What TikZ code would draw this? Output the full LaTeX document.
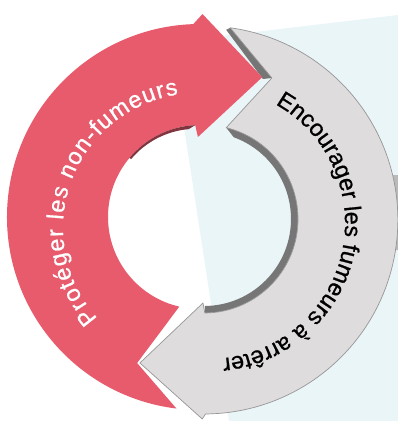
\documentclass[tikz,border=0pt]{standalone}
\usepackage{fontspec}
\setmainfont{Liberation Sans}
\newfontfamily\ringfont{Liberation Sans}[FakeBold=0.8]
\usetikzlibrary{decorations.text,calc}
\definecolor{arrowred}{RGB}{232,91,108}
\definecolor{arrowgray}{RGB}{222,220,221}
\definecolor{grayedge}{RGB}{150,150,150}
\definecolor{graywall}{RGB}{118,118,118}
\definecolor{redwall}{RGB}{128,52,62}
\definecolor{panelblue}{RGB}{234,245,248}
\definecolor{sidegray}{RGB}{185,185,185}
\begin{document}
\begin{tikzpicture}[x=1pt,y=1pt,
  redarrow/.style={fill=arrowred},
  grayarrow/.style={fill=arrowgray, draw=grayedge, line width=0.7pt, line join=round},
  wallgray/.style={fill=graywall},
  wallred/.style={fill=redwall},
  bgpanel/.style={fill=panelblue},
  redlabel/.style={decorate, decoration={text along path, text align={fit to path}, text color=white,
     text={|\ringfont\fontsize{23.5}{23.5}\selectfont|Protéger les non-fumeurs}}},
  graylabel/.style={decorate, decoration={text along path, text align={fit to path}, text color=black,
     text={|\ringfont\fontsize{23.5}{23.5}\selectfont|Encourager les fumeurs à arrêter}}}]
\useasboundingbox (0,0) rectangle (398,421);
\fill[white] (0,0) rectangle (398,421);
% light blue panel
\fill[bgpanel] (171,379) -- (398,406) -- (398,0) -- (229,0) -- cycle;
% cropped grey element at the right edge
\fill[sidegray] (393,171) rectangle (398,246);
% grey arrow (ring centre at pixel (204,219))
\begin{scope}[shift={(204,202)}]
  % inner wall seen through the hole
  \fill[wallgray] (76.3:94) arc[start angle=76.3, end angle=-89.5, radius=94]
        -- (-89.5:87) arc[start angle=-89.5, end angle=70, radius=87] -- cycle;
  % side wall along the tail notch
  \fill[wallgray] (82.2:193) -- (64.3:156.5) -- ($(64.3:156.5)+(-9,-1)$) -- ($(82.2:193)+(-4,-2)$) -- cycle;
  % grey arrow body
  \path[grayarrow] (82.2:193) arc[start angle=82.2, end angle=-89.5, radius=194]
        -- (-90.5:200) -- (-114:157.6) -- (-90.7:84) -- (-89.5:94)
        arc[start angle=-89.5, end angle=76.3, radius=94] -- (64.3:156.5) -- cycle;
\end{scope}
% red arrow (ring centre at pixel (200,217))
\begin{scope}[shift={(200,204)}]
  \fill[redarrow] (257:92) -- (246.7:159) -- (263:193)
        arc[start angle=263, end angle=92, radius=193]
        -- (89.3:203) -- (66:153) -- (91.5:80) -- (93:92)
        arc[start angle=93, end angle=257, radius=92] -- cycle;
  % red inner wall under the arrow head
  \fill[wallred] (93:92) arc[start angle=93, end angle=140, radius=92]
        -- (140:90) arc[start angle=140, end angle=95, radius=85] -- cycle;
\end{scope}
% labels along the arcs
\begin{scope}[shift={(198,193)}]
  \path[redlabel] (222:135) arc[start angle=222, end angle=98.3, radius=135];
\end{scope}
\begin{scope}[shift={(209,198)}]
  \path[graylabel] (60.8:136) arc[start angle=60.8, end angle=-83.2, radius=136];
\end{scope}
\end{tikzpicture}
\end{document}
